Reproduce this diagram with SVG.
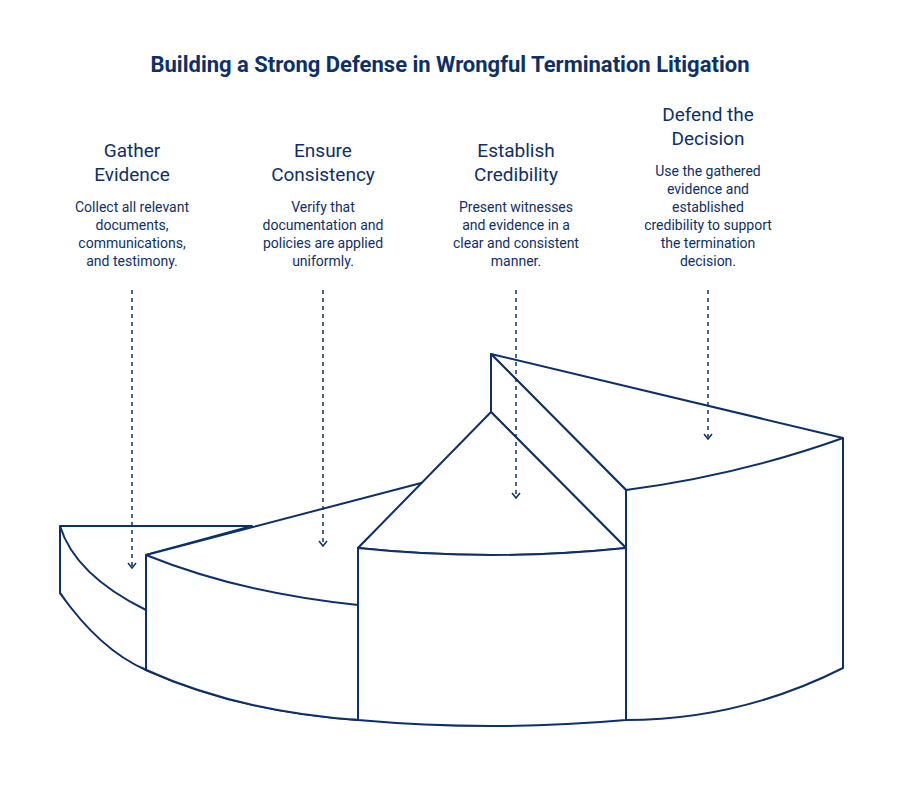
<svg xmlns="http://www.w3.org/2000/svg" width="900" height="799" viewBox="0 0 900 799">
<style>
.t{font-family:Roboto,"Liberation Sans",sans-serif;fill:#0d3068;text-anchor:middle}
.h{font-size:19px}
.b{font-size:14px}
.s{fill:#fff;stroke:#0d3068;stroke-width:2;stroke-linejoin:round}
.d{stroke:#0d3068;stroke-width:1.5;stroke-dasharray:4 4;fill:none}
.a{stroke:#0d3068;stroke-width:1.5;fill:none}
</style>
<rect width="900" height="799" fill="#fff"/>
<text class="t" x="450" y="72" style="font-size:22px;font-weight:bold">Building a Strong Defense in Wrongful Termination Litigation</text>
<g id="shape">
<path class="s" d="M60,526 L252,526 L146,555 L146,670 Q95,640 60,593 Z"/>
<path class="s" d="M60,526 Q75,575 146,610"/>
<path class="s" d="M146,555 L425,482 L358,548 L358,605 Q240,593 146,555 Z"/>
<path class="s" d="M491,354 L843,438 L843,668 Q740,720 626,720 L626,490 Z"/>
<path class="s" d="M626,490 Q740,475 843,438"/>
<path class="s" d="M491,354 L491,412 L626,548 L626,490 Z"/>
<path class="s" d="M491,412 L358,548 Q491,562 626,548 Z"/>
<path class="s" d="M358,548 Q491,562 626,548 L626,720 Q491,732 358,720 Z"/>
<path class="s" d="M60,593 Q95,640 146,670 L146,555 L146,670 Q240,712 358,720" fill="none"/>
<path class="s" fill="none" d="M60,593 Q100,650 146,670"/>
<path class="s" fill="none" d="M146,670 Q240,712 358,720"/>
</g>
<g id="connectors">
<line class="d" x1="132" y1="290" x2="132" y2="566"/>
<line class="d" x1="323" y1="290" x2="323" y2="544"/>
<line class="d" x1="516" y1="290" x2="516" y2="496"/>
<line class="d" x1="708" y1="290" x2="708" y2="437"/>
<path class="a" d="M128,563 L132,568 L136,563"/>
<path class="a" d="M319,541 L323,546 L327,541"/>
<path class="a" d="M512,493 L516,498 L520,493"/>
<path class="a" d="M704,434 L708,439 L712,434"/>
</g>
<g id="n1">
<text class="t h" x="132" y="157">Gather</text>
<text class="t h" x="132" y="181">Evidence</text>
<text class="t b" x="132" y="212">Collect all relevant</text>
<text class="t b" x="132" y="230">documents,</text>
<text class="t b" x="132" y="248">communications,</text>
<text class="t b" x="132" y="266">and testimony.</text>
</g>
<g id="n2">
<text class="t h" x="323" y="157">Ensure</text>
<text class="t h" x="323" y="181">Consistency</text>
<text class="t b" x="323" y="212">Verify that</text>
<text class="t b" x="323" y="230">documentation and</text>
<text class="t b" x="323" y="248">policies are applied</text>
<text class="t b" x="323" y="266">uniformly.</text>
</g>
<g id="n3">
<text class="t h" x="516" y="157">Establish</text>
<text class="t h" x="516" y="181">Credibility</text>
<text class="t b" x="516" y="212">Present witnesses</text>
<text class="t b" x="516" y="230">and evidence in a</text>
<text class="t b" x="516" y="248">clear and consistent</text>
<text class="t b" x="516" y="266">manner.</text>
</g>
<g id="n4">
<text class="t h" x="708" y="121">Defend the</text>
<text class="t h" x="708" y="145">Decision</text>
<text class="t b" x="708" y="176">Use the gathered</text>
<text class="t b" x="708" y="194">evidence and</text>
<text class="t b" x="708" y="212">established</text>
<text class="t b" x="708" y="230">credibility to support</text>
<text class="t b" x="708" y="248">the termination</text>
<text class="t b" x="708" y="266">decision.</text>
</g>
</svg>
